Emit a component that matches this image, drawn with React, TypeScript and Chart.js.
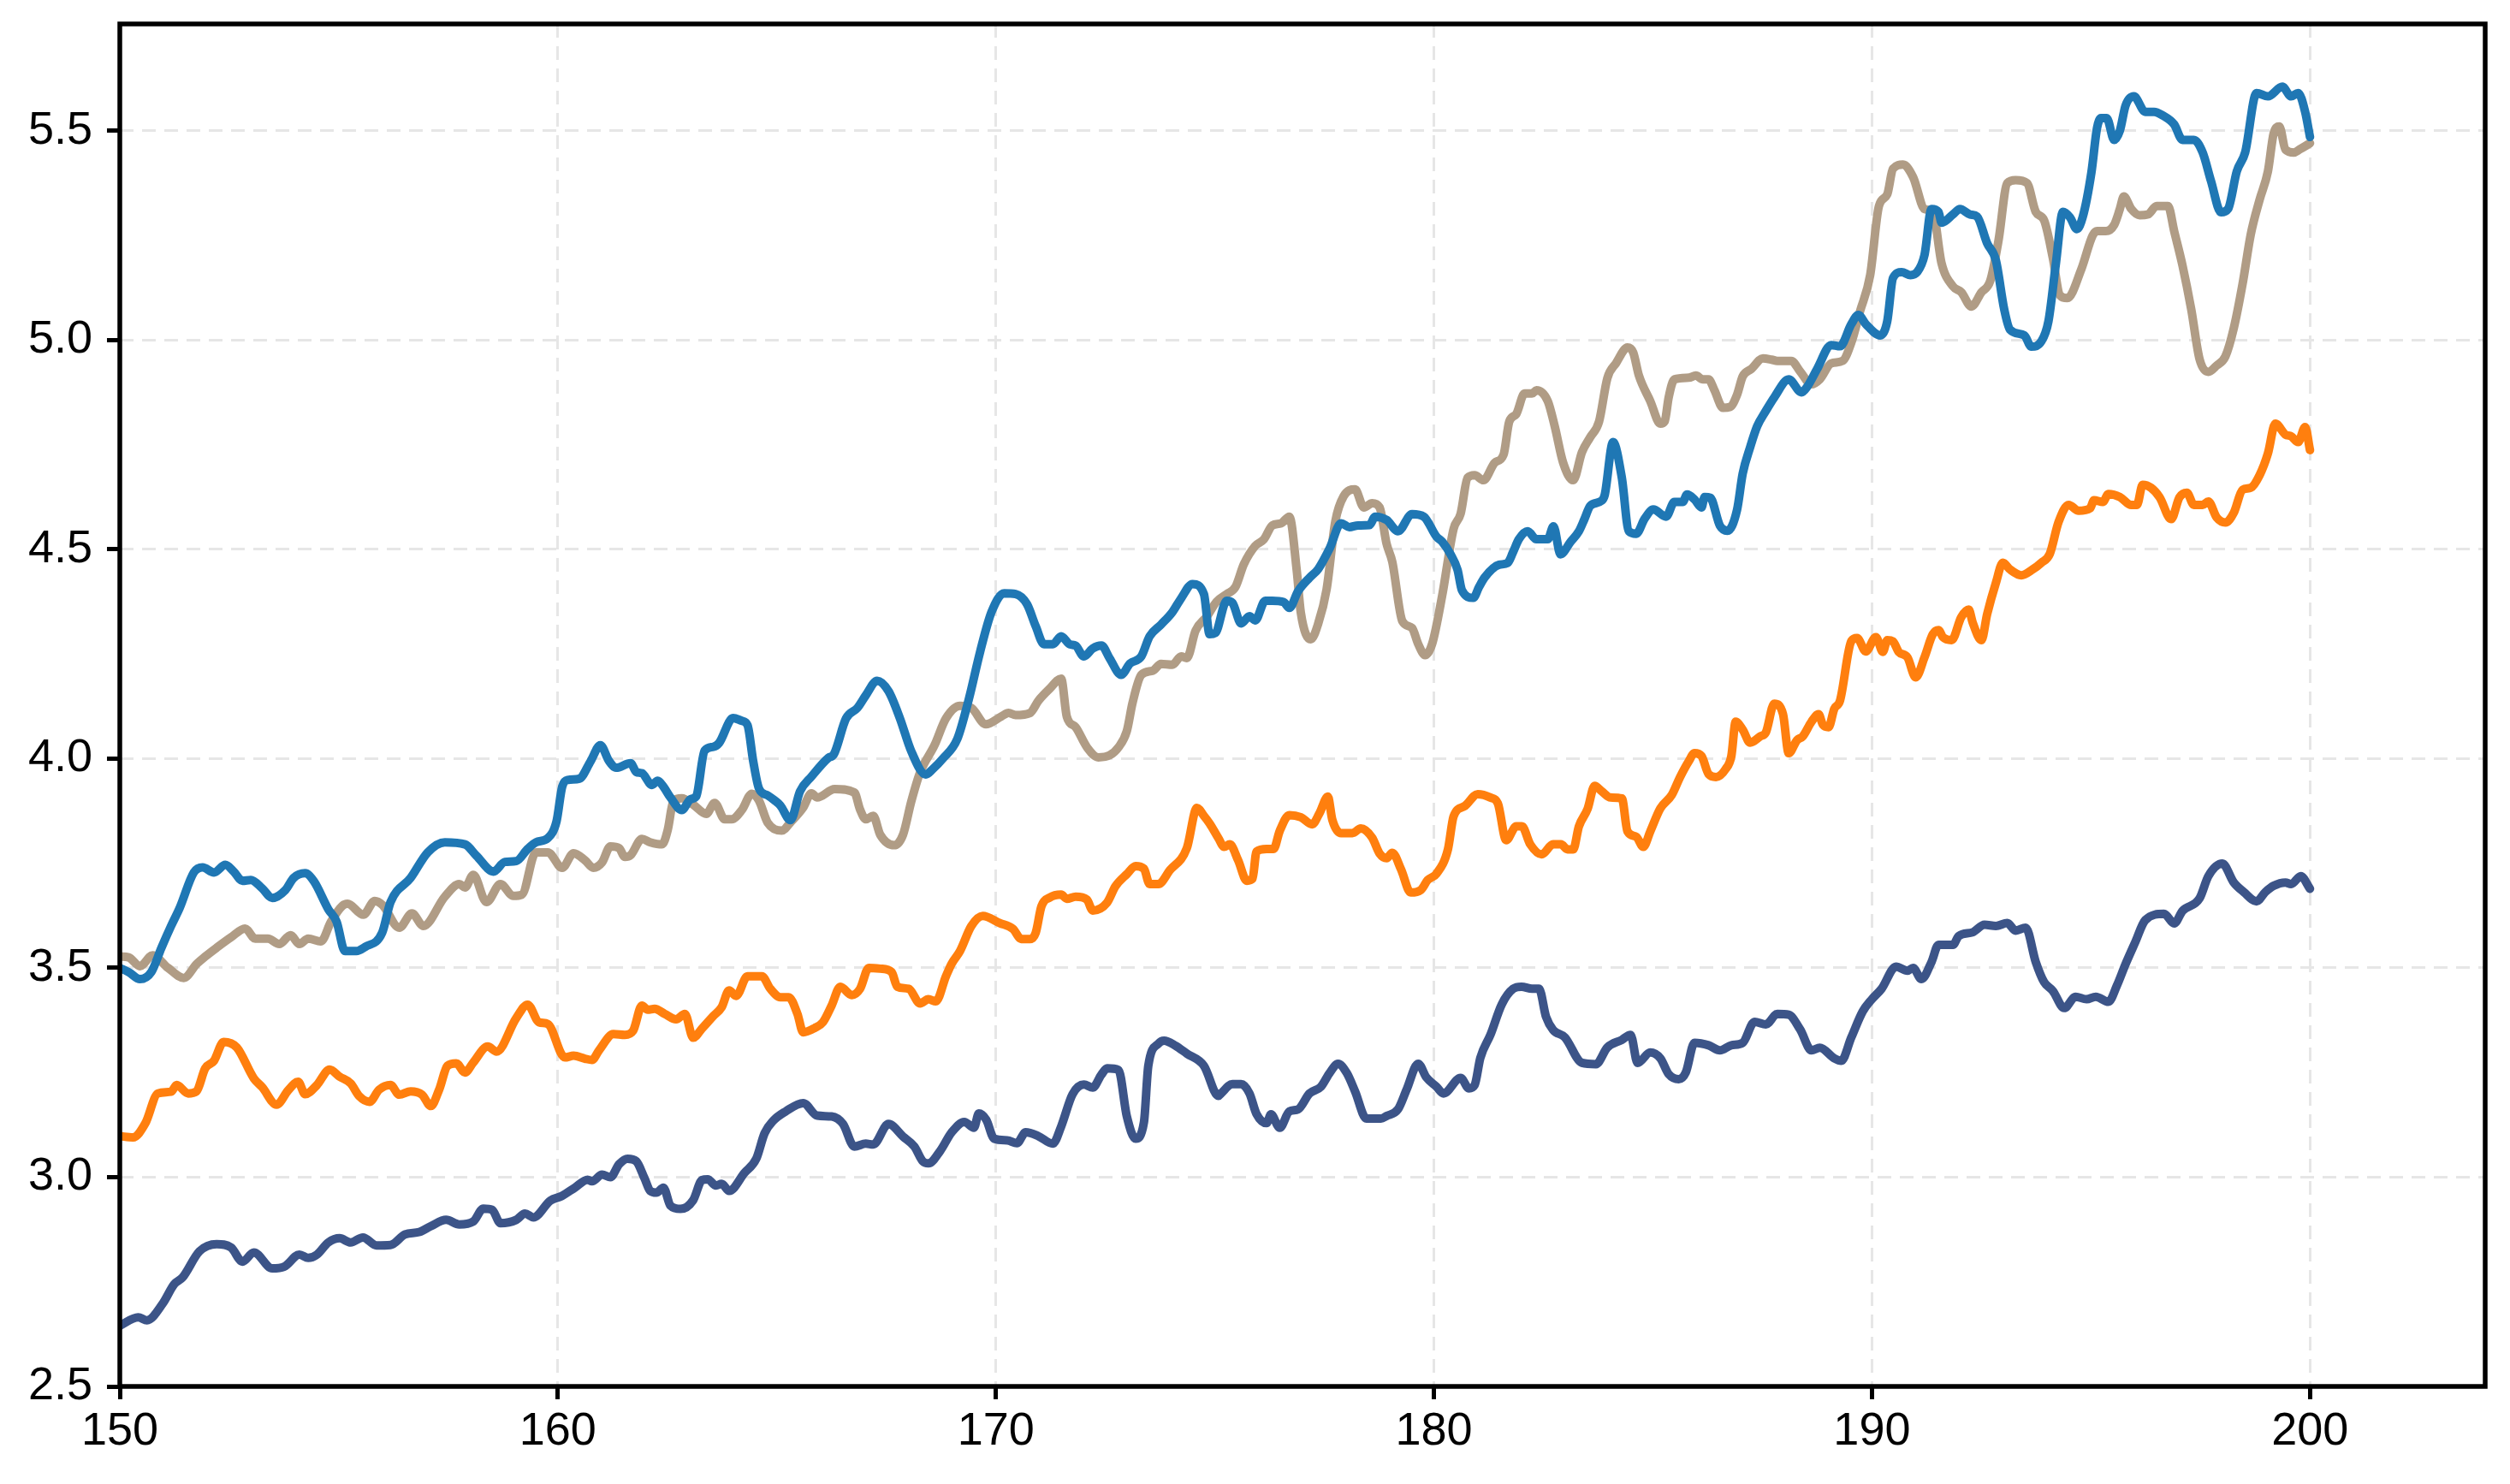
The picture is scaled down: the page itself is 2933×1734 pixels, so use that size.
import { useEffect, useRef } from 'react';
import { Chart, registerables, Plugin } from 'chart.js';

Chart.register(...registerables);

const xTicks = [150, 160, 170, 180, 190, 200];
const yTicks = [2.5, 3.0, 3.5, 4.0, 4.5, 5.0, 5.5];

// [x, y] pairs
const bluePoints: [number, number][] = [
  [150.0, 3.5], [150.2, 3.49], [150.46, 3.473], [150.72, 3.49], [150.95, 3.548], [151.17, 3.6], [151.37, 3.644],
  [151.69, 3.728], [151.89, 3.74], [152.15, 3.728], [152.41, 3.746], [152.6, 3.73], [152.8, 3.708], [152.99, 3.71],
  [153.25, 3.69], [153.48, 3.667], [153.78, 3.686], [153.97, 3.715], [154.23, 3.726], [154.43, 3.707], [154.76, 3.64],
  [154.95, 3.61], [155.14, 3.54], [155.4, 3.54], [155.6, 3.55], [155.99, 3.584], [156.18, 3.657], [156.64, 3.715],
  [157.03, 3.776], [157.42, 3.8], [157.88, 3.795], [158.14, 3.768], [158.53, 3.73], [158.79, 3.753], [159.05, 3.755],
  [159.31, 3.784], [159.5, 3.8], [159.77, 3.81], [159.97, 3.85], [160.1, 3.933], [160.23, 3.949], [160.49, 3.952],
  [160.75, 3.994], [160.97, 4.032], [161.17, 3.994], [161.33, 3.978], [161.66, 3.989], [161.79, 3.968], [161.92, 3.965],
  [162.15, 3.937], [162.28, 3.947], [162.41, 3.933], [162.57, 3.907], [162.83, 3.877], [163.03, 3.903], [163.16, 3.91],
  [163.35, 4.019], [163.55, 4.028], [163.68, 4.037], [164.0, 4.097], [164.2, 4.09], [164.33, 4.08], [164.46, 3.994],
  [164.59, 3.929], [164.79, 3.912], [164.95, 3.9], [165.08, 3.888], [165.31, 3.853], [165.53, 3.922], [165.79, 3.957],
  [166.18, 4.002], [166.3, 4.01], [166.58, 4.096], [166.84, 4.121], [167.03, 4.151], [167.29, 4.186], [167.55, 4.161],
  [167.81, 4.096], [168.07, 4.017], [168.4, 3.962], [168.56, 3.975], [168.79, 4.0], [169.12, 4.047], [169.38, 4.141],
  [169.64, 4.255], [169.9, 4.35], [170.19, 4.395], [170.45, 4.393], [170.71, 4.369], [170.91, 4.316], [171.1, 4.273],
  [171.3, 4.273], [171.49, 4.292], [171.69, 4.273], [171.82, 4.27], [172.01, 4.244], [172.21, 4.263], [172.41, 4.27],
  [172.6, 4.239], [172.86, 4.2], [173.06, 4.227], [173.32, 4.244], [173.51, 4.292], [173.77, 4.32], [174.03, 4.35],
  [174.23, 4.383], [174.49, 4.417], [174.75, 4.393], [174.88, 4.297], [175.01, 4.3], [175.27, 4.377], [175.4, 4.372],
  [175.6, 4.323], [175.79, 4.34], [175.92, 4.33], [176.15, 4.377], [176.31, 4.377], [176.57, 4.374], [176.7, 4.36],
  [176.9, 4.4], [177.16, 4.432], [177.36, 4.453], [177.62, 4.502], [177.88, 4.562], [178.07, 4.553], [178.27, 4.557],
  [178.53, 4.558], [178.66, 4.578], [178.92, 4.57], [179.18, 4.543], [179.5, 4.584], [179.77, 4.578], [180.06, 4.53],
  [180.19, 4.518], [180.38, 4.488], [180.54, 4.451], [180.64, 4.402], [180.9, 4.384], [181.03, 4.41], [181.16, 4.433],
  [181.49, 4.463], [181.68, 4.467], [181.81, 4.494], [181.94, 4.524], [182.14, 4.543], [182.34, 4.524], [182.6, 4.524],
  [182.73, 4.555], [182.89, 4.488], [183.12, 4.518], [183.31, 4.543], [183.44, 4.573], [183.57, 4.604], [183.83, 4.616],
  [183.9, 4.63], [184.09, 4.756], [184.29, 4.671], [184.45, 4.543], [184.62, 4.537], [184.81, 4.573], [185.01, 4.595],
  [185.3, 4.578], [185.49, 4.613], [185.68, 4.613], [185.78, 4.631], [185.95, 4.619], [186.11, 4.6], [186.18, 4.625],
  [186.31, 4.623], [186.53, 4.556], [186.7, 4.544], [186.92, 4.594], [187.05, 4.681], [187.22, 4.744], [187.38, 4.794],
  [187.58, 4.831], [187.77, 4.863], [188.1, 4.906], [188.39, 4.875], [188.52, 4.888], [188.75, 4.931], [189.07, 4.988],
  [189.27, 4.985], [189.53, 5.038], [189.69, 5.06], [189.86, 5.038], [190.19, 5.011], [190.35, 5.045], [190.48, 5.148],
  [190.68, 5.162], [190.88, 5.155], [191.03, 5.162], [191.2, 5.203], [191.36, 5.313], [191.52, 5.306], [191.59, 5.28],
  [191.85, 5.3], [192.01, 5.313], [192.24, 5.3], [192.4, 5.295], [192.63, 5.231], [192.83, 5.19], [193.02, 5.073],
  [193.15, 5.025], [193.48, 5.011], [193.64, 4.984], [193.87, 4.997], [194.03, 5.045], [194.2, 5.183], [194.36, 5.306],
  [194.52, 5.293], [194.68, 5.265], [194.81, 5.293], [195.01, 5.4], [195.14, 5.507], [195.23, 5.53], [195.36, 5.53],
  [195.53, 5.478], [195.66, 5.5], [195.79, 5.56], [195.98, 5.582], [196.24, 5.545], [196.44, 5.545], [196.63, 5.537],
  [196.9, 5.515], [197.09, 5.478], [197.35, 5.478], [197.55, 5.448], [197.74, 5.38], [197.97, 5.305], [198.13, 5.313],
  [198.33, 5.403], [198.52, 5.448], [198.78, 5.59], [199.04, 5.582], [199.37, 5.605], [199.57, 5.582], [199.73, 5.59],
  [199.89, 5.545], [200.0, 5.485],
];

const tanPoints: [number, number][] = [
  [150.0, 3.527], [150.2, 3.525], [150.46, 3.504], [150.75, 3.53], [151.1, 3.5], [151.46, 3.476], [151.76, 3.51],
  [151.95, 3.527], [152.21, 3.548], [152.54, 3.573], [152.86, 3.594], [153.09, 3.57], [153.38, 3.57], [153.64, 3.557],
  [153.9, 3.578], [154.1, 3.557], [154.3, 3.57], [154.59, 3.563], [154.82, 3.61], [155.08, 3.648], [155.2, 3.653],
  [155.56, 3.627], [155.82, 3.66], [156.0, 3.65], [156.38, 3.596], [156.67, 3.63], [156.93, 3.6], [157.42, 3.67],
  [157.75, 3.7], [157.88, 3.692], [158.07, 3.722], [158.37, 3.657], [158.69, 3.7], [158.98, 3.672], [159.18, 3.675],
  [159.5, 3.776], [159.77, 3.776], [160.1, 3.739], [160.36, 3.774], [160.62, 3.757], [160.81, 3.739], [161.01, 3.752],
  [161.2, 3.79], [161.4, 3.786], [161.53, 3.765], [161.66, 3.769], [161.92, 3.808], [162.11, 3.8], [162.38, 3.795],
  [162.51, 3.83], [162.64, 3.899], [162.83, 3.905], [163.09, 3.89], [163.39, 3.868], [163.58, 3.894], [163.81, 3.855],
  [163.97, 3.855], [164.2, 3.877], [164.43, 3.916], [164.59, 3.9], [164.79, 3.847], [165.11, 3.828], [165.33, 3.85],
  [165.6, 3.883], [165.79, 3.917], [165.92, 3.907], [166.32, 3.927], [166.77, 3.919], [166.9, 3.878], [167.03, 3.855],
  [167.2, 3.863], [167.36, 3.818], [167.68, 3.793], [167.88, 3.818], [168.07, 3.898], [168.27, 3.967], [168.6, 4.032],
  [168.86, 4.096], [169.18, 4.126], [169.44, 4.121], [169.77, 4.082], [170.13, 4.101], [170.29, 4.109], [170.45, 4.104],
  [170.78, 4.109], [170.97, 4.138], [171.23, 4.167], [171.49, 4.191], [171.62, 4.1], [171.82, 4.075], [172.08, 4.027],
  [172.34, 4.003], [172.6, 4.008], [172.8, 4.027], [172.99, 4.066], [173.12, 4.133], [173.32, 4.2], [173.58, 4.21],
  [173.77, 4.226], [174.03, 4.224], [174.23, 4.244], [174.36, 4.24], [174.56, 4.306], [174.82, 4.34], [175.04, 4.375],
  [175.27, 4.393], [175.47, 4.41], [175.66, 4.464], [175.92, 4.508], [176.12, 4.524], [176.31, 4.557], [176.51, 4.562],
  [176.7, 4.578], [176.87, 4.448], [176.96, 4.35], [177.19, 4.285], [177.36, 4.323], [177.55, 4.404], [177.75, 4.567],
  [177.94, 4.627], [178.2, 4.643], [178.4, 4.6], [178.59, 4.61], [178.76, 4.6], [178.92, 4.513], [179.05, 4.47],
  [179.28, 4.328], [179.5, 4.312], [179.64, 4.274], [179.8, 4.247], [179.96, 4.274], [180.19, 4.39], [180.45, 4.549],
  [180.61, 4.585], [180.77, 4.671], [180.93, 4.677], [181.13, 4.665], [181.39, 4.707], [181.59, 4.726], [181.72, 4.805],
  [181.88, 4.823], [182.07, 4.872], [182.24, 4.872], [182.34, 4.88], [182.6, 4.854], [182.76, 4.793], [182.95, 4.707],
  [183.18, 4.665], [183.38, 4.732], [183.57, 4.768], [183.77, 4.805], [183.96, 4.909], [184.16, 4.945], [184.42, 4.982],
  [184.55, 4.97], [184.68, 4.915], [184.94, 4.854], [185.17, 4.8], [185.27, 4.806], [185.36, 4.863], [185.49, 4.906],
  [185.82, 4.91], [185.98, 4.915], [186.14, 4.906], [186.27, 4.906], [186.4, 4.881], [186.6, 4.838], [186.76, 4.84],
  [186.92, 4.869], [187.05, 4.913], [187.25, 4.931], [187.51, 4.956], [187.71, 4.953], [187.84, 4.95], [188.16, 4.95],
  [188.36, 4.925], [188.62, 4.894], [188.81, 4.906], [189.07, 4.944], [189.33, 4.95], [189.53, 4.994], [189.73, 5.069],
  [189.96, 5.155], [190.16, 5.32], [190.35, 5.348], [190.48, 5.409], [190.71, 5.419], [190.94, 5.389], [191.2, 5.313],
  [191.39, 5.306], [191.59, 5.183], [191.85, 5.128], [192.04, 5.114], [192.27, 5.08], [192.5, 5.114], [192.7, 5.141],
  [192.89, 5.238], [193.09, 5.375], [193.28, 5.382], [193.54, 5.375], [193.74, 5.306], [193.93, 5.286], [194.13, 5.196],
  [194.29, 5.107], [194.46, 5.1], [194.78, 5.169], [195.04, 5.25], [195.14, 5.26], [195.34, 5.26], [195.53, 5.275],
  [195.66, 5.313], [195.75, 5.343], [195.92, 5.313], [196.11, 5.298], [196.3, 5.3], [196.5, 5.32], [196.76, 5.32],
  [196.9, 5.26], [197.09, 5.178], [197.29, 5.073], [197.48, 4.954], [197.68, 4.924], [197.87, 4.939], [198.07, 4.961],
  [198.26, 5.028], [198.46, 5.133], [198.65, 5.253], [198.85, 5.335], [199.04, 5.403], [199.17, 5.493], [199.3, 5.51],
  [199.44, 5.455], [199.63, 5.448], [199.76, 5.455], [200.0, 5.47],
];

const orangePoints: [number, number][] = [
  [150.0, 3.098], [150.3, 3.095], [150.58, 3.128], [150.87, 3.2], [151.17, 3.204], [151.3, 3.22], [151.56, 3.2],
  [151.75, 3.205], [151.95, 3.26], [152.15, 3.278], [152.37, 3.323], [152.67, 3.31], [153.06, 3.236], [153.25, 3.215],
  [153.58, 3.173], [153.84, 3.207], [154.07, 3.228], [154.23, 3.198], [154.5, 3.22], [154.79, 3.257], [155.02, 3.24],
  [155.27, 3.224], [155.47, 3.193], [155.7, 3.18], [155.92, 3.209], [156.18, 3.22], [156.38, 3.197], [156.64, 3.205],
  [156.9, 3.197], [157.1, 3.17], [157.29, 3.209], [157.48, 3.266], [157.68, 3.272], [157.88, 3.25], [158.07, 3.274],
  [158.4, 3.312], [158.6, 3.3], [159.05, 3.38], [159.31, 3.412], [159.57, 3.37], [159.77, 3.366], [160.16, 3.286],
  [160.36, 3.29], [160.62, 3.283], [160.78, 3.28], [160.94, 3.303], [161.27, 3.342], [161.53, 3.34], [161.72, 3.35],
  [161.92, 3.41], [162.05, 3.4], [162.21, 3.402], [162.44, 3.39], [162.7, 3.377], [162.9, 3.39], [163.09, 3.333],
  [163.29, 3.355], [163.55, 3.385], [163.74, 3.406], [163.91, 3.446], [164.07, 3.433], [164.33, 3.48], [164.66, 3.48],
  [164.85, 3.45], [165.08, 3.43], [165.27, 3.43], [165.47, 3.39], [165.6, 3.346], [165.86, 3.356], [166.05, 3.37],
  [166.25, 3.41], [166.45, 3.455], [166.71, 3.435], [166.9, 3.45], [167.1, 3.5], [167.36, 3.498], [167.62, 3.49],
  [167.75, 3.455], [168.01, 3.45], [168.27, 3.415], [168.46, 3.425], [168.63, 3.42], [168.86, 3.48], [168.99, 3.51],
  [169.18, 3.54], [169.44, 3.6], [169.7, 3.624], [170.09, 3.607], [170.39, 3.593], [170.58, 3.569], [170.78, 3.569],
  [170.91, 3.584], [171.04, 3.647], [171.23, 3.668], [171.49, 3.675], [171.62, 3.665], [171.82, 3.67], [172.08, 3.663],
  [172.21, 3.637], [172.54, 3.656], [172.73, 3.695], [172.99, 3.724], [173.19, 3.743], [173.38, 3.737], [173.51, 3.7],
  [173.71, 3.7], [173.97, 3.733], [174.36, 3.786], [174.59, 3.882], [174.75, 3.863], [174.88, 3.845], [175.08, 3.81],
  [175.21, 3.789], [175.34, 3.795], [175.53, 3.757], [175.73, 3.708], [175.86, 3.713], [175.95, 3.778], [176.18, 3.784],
  [176.34, 3.784], [176.48, 3.827], [176.7, 3.865], [176.96, 3.86], [177.22, 3.843], [177.39, 3.87], [177.58, 3.909],
  [177.68, 3.854], [177.88, 3.822], [178.14, 3.822], [178.33, 3.833], [178.59, 3.811], [178.76, 3.773], [178.92, 3.762],
  [179.05, 3.775], [179.25, 3.735], [179.47, 3.68], [179.7, 3.686], [179.86, 3.71], [180.06, 3.725], [180.32, 3.783],
  [180.45, 3.862], [180.71, 3.887], [181.0, 3.915], [181.29, 3.907], [181.46, 3.893], [181.65, 3.805], [181.88, 3.838],
  [182.01, 3.838], [182.2, 3.795], [182.46, 3.771], [182.72, 3.795], [182.9, 3.795], [183.05, 3.783], [183.18, 3.783],
  [183.31, 3.838], [183.51, 3.88], [183.67, 3.935], [183.83, 3.922], [184.03, 3.907], [184.29, 3.905], [184.42, 3.826],
  [184.62, 3.813], [184.78, 3.789], [184.94, 3.826], [185.17, 3.881], [185.43, 3.913], [185.62, 3.956], [185.82, 3.994],
  [185.95, 4.013], [186.11, 4.006], [186.27, 3.963], [186.44, 3.956], [186.66, 3.975], [186.79, 4.006], [186.89, 4.088],
  [187.05, 4.069], [187.22, 4.038], [187.45, 4.053], [187.58, 4.063], [187.77, 4.131], [187.97, 4.106], [188.1, 4.013],
  [188.29, 4.044], [188.42, 4.053], [188.62, 4.088], [188.78, 4.106], [188.88, 4.081], [189.01, 4.075], [189.14, 4.119],
  [189.27, 4.138], [189.53, 4.281], [189.66, 4.288], [189.86, 4.256], [190.09, 4.29], [190.25, 4.255], [190.35, 4.283],
  [190.48, 4.28], [190.61, 4.255], [190.81, 4.242], [191.0, 4.194], [191.2, 4.242], [191.39, 4.297], [191.52, 4.307],
  [191.62, 4.29], [191.82, 4.283], [192.04, 4.338], [192.21, 4.356], [192.3, 4.325], [192.5, 4.283], [192.63, 4.345],
  [192.83, 4.42], [192.99, 4.468], [193.15, 4.452], [193.41, 4.438], [193.67, 4.452], [193.87, 4.468], [194.06, 4.489],
  [194.26, 4.565], [194.49, 4.606], [194.72, 4.592], [194.98, 4.598], [195.07, 4.617], [195.27, 4.613], [195.4, 4.632],
  [195.66, 4.625], [195.92, 4.606], [196.05, 4.606], [196.18, 4.654], [196.37, 4.647], [196.57, 4.624], [196.83, 4.572],
  [197.02, 4.624], [197.19, 4.635], [197.35, 4.606], [197.55, 4.606], [197.68, 4.614], [197.87, 4.576], [198.07, 4.564],
  [198.26, 4.587], [198.46, 4.642], [198.65, 4.647], [198.85, 4.677], [199.04, 4.729], [199.21, 4.8], [199.44, 4.774],
  [199.57, 4.77], [199.73, 4.756], [199.89, 4.792], [200.0, 4.737],
];

const navyPoints: [number, number][] = [
  [150.0, 2.645], [150.42, 2.665], [150.62, 2.658], [150.98, 2.698], [151.24, 2.744], [151.43, 2.76], [151.82, 2.823],
  [152.21, 2.84], [152.54, 2.832], [152.8, 2.798], [153.06, 2.82], [153.48, 2.782], [153.75, 2.786], [154.1, 2.815],
  [154.3, 2.807], [154.5, 2.815], [154.76, 2.844], [155.02, 2.854], [155.27, 2.844], [155.55, 2.856], [155.86, 2.837],
  [156.18, 2.838], [156.51, 2.863], [156.84, 2.869], [157.1, 2.883], [157.45, 2.898], [157.75, 2.887], [158.07, 2.894],
  [158.3, 2.925], [158.5, 2.922], [158.69, 2.89], [159.05, 2.898], [159.25, 2.913], [159.44, 2.904], [159.83, 2.944],
  [160.09, 2.955], [160.39, 2.975], [160.68, 2.994], [160.78, 2.99], [161.01, 3.006], [161.2, 3.0], [161.4, 3.031],
  [161.59, 3.044], [161.79, 3.038], [161.98, 2.997], [162.11, 2.967], [162.25, 2.963], [162.41, 2.975], [162.57, 2.932],
  [162.8, 2.924], [163.09, 2.945], [163.29, 2.993], [163.42, 2.995], [163.61, 2.98], [163.74, 2.984], [163.91, 2.967],
  [164.26, 3.01], [164.53, 3.044], [164.72, 3.105], [164.92, 3.135], [165.2, 3.157], [165.6, 3.177], [165.92, 3.147],
  [166.25, 3.145], [166.51, 3.127], [166.77, 3.073], [167.03, 3.08], [167.2, 3.078], [167.55, 3.127], [167.88, 3.097],
  [168.14, 3.073], [168.33, 3.038], [168.46, 3.033], [168.73, 3.063], [168.99, 3.107], [169.28, 3.132], [169.5, 3.118],
  [169.61, 3.152], [169.78, 3.137], [169.96, 3.092], [170.26, 3.088], [170.48, 3.081], [170.68, 3.107], [170.97, 3.098],
  [171.3, 3.08], [171.49, 3.121], [171.75, 3.198], [172.01, 3.221], [172.21, 3.214], [172.41, 3.245], [172.54, 3.26],
  [172.8, 3.256], [172.99, 3.145], [173.19, 3.092], [173.38, 3.131], [173.48, 3.266], [173.71, 3.319], [173.84, 3.326],
  [174.1, 3.314], [174.36, 3.295], [174.75, 3.266], [175.08, 3.194], [175.14, 3.2], [175.4, 3.222], [175.6, 3.222],
  [175.79, 3.2], [175.95, 3.151], [176.18, 3.129], [176.28, 3.15], [176.48, 3.118], [176.7, 3.157], [176.9, 3.162],
  [177.16, 3.2], [177.42, 3.216], [177.62, 3.249], [177.81, 3.271], [178.01, 3.249], [178.2, 3.205], [178.46, 3.14],
  [178.79, 3.14], [178.92, 3.146], [179.18, 3.162], [179.38, 3.21], [179.64, 3.271], [179.83, 3.238], [180.06, 3.216],
  [180.22, 3.2], [180.61, 3.237], [180.8, 3.212], [180.93, 3.22], [181.06, 3.285], [181.29, 3.34], [181.55, 3.413],
  [181.81, 3.45], [182.0, 3.455], [182.24, 3.45], [182.4, 3.45], [182.56, 3.383], [182.72, 3.352], [182.99, 3.334],
  [183.38, 3.273], [183.7, 3.27], [183.96, 3.31], [184.29, 3.328], [184.49, 3.34], [184.65, 3.273], [184.94, 3.298],
  [185.17, 3.284], [185.36, 3.246], [185.59, 3.234], [185.75, 3.25], [185.95, 3.321], [186.27, 3.315], [186.53, 3.303],
  [186.79, 3.315], [187.05, 3.321], [187.32, 3.371], [187.58, 3.365], [187.84, 3.39], [188.1, 3.388], [188.36, 3.353],
  [188.62, 3.303], [188.81, 3.309], [189.14, 3.284], [189.3, 3.278], [189.53, 3.334], [189.79, 3.396], [189.99, 3.424],
  [190.22, 3.45], [190.55, 3.503], [190.81, 3.493], [190.94, 3.5], [191.13, 3.473], [191.36, 3.514], [191.52, 3.555],
  [191.85, 3.555], [191.98, 3.576], [192.3, 3.585], [192.57, 3.603], [192.83, 3.6], [193.09, 3.607], [193.28, 3.589],
  [193.51, 3.596], [193.74, 3.514], [193.93, 3.466], [194.13, 3.445], [194.39, 3.404], [194.65, 3.431], [194.9, 3.425],
  [195.11, 3.431], [195.4, 3.419], [195.59, 3.457], [195.79, 3.509], [196.01, 3.561], [196.24, 3.614], [196.67, 3.629],
  [196.9, 3.606], [197.09, 3.636], [197.48, 3.666], [197.68, 3.719], [198.0, 3.749], [198.26, 3.704], [198.49, 3.681],
  [198.78, 3.659], [198.98, 3.681], [199.17, 3.696], [199.44, 3.704], [199.57, 3.7], [199.79, 3.719], [200.0, 3.689],
];

const tickFont = { family: "'Liberation Sans', Arial, Helvetica, sans-serif", size: 54 };

// black box round the plot area
const frame: Plugin<'line'> = {
  id: 'frame',
  afterDatasetsDraw(chart) {
    const { ctx, chartArea } = chart;
    ctx.save();
    ctx.strokeStyle = '#000';
    ctx.lineWidth = 5.5;
    ctx.strokeRect(chartArea.left, chartArea.top, chartArea.right - chartArea.left, chartArea.bottom - chartArea.top);
    ctx.restore();
  },
};

const toXY = (pts: [number, number][]) => pts.map(([x, y]) => ({ x, y }));

function line(label: string, pts: [number, number][], color: string) {
  return {
    label,
    data: toXY(pts),
    borderColor: color,
    backgroundColor: color,
    borderWidth: 10,
    pointRadius: 0,
    cubicInterpolationMode: 'monotone' as const,
    borderJoinStyle: 'round' as const,
    borderCapStyle: 'round' as const,
  };
}

export default function App() {
  const chartRef = useRef<HTMLCanvasElement>(null);
  const chartInstance = useRef<Chart | null>(null);

  useEffect(() => {
    document.body.style.margin = '0';
    document.body.style.overflow = 'hidden';
    if (!chartRef.current) return;

    if (chartInstance.current) {
      chartInstance.current.destroy();
    }

    chartInstance.current = new Chart(chartRef.current, {
      type: 'line',
      data: {
        datasets: [
          line('blue', bluePoints, '#1f77b4'),
          line('tan', tanPoints, '#b09c85'),
          line('orange', orangePoints, '#ff7f0e'),
          line('navy', navyPoints, '#3c5488'),
        ],
      },
      options: {
        animation: false,
        responsive: true,
        maintainAspectRatio: false,
        layout: { padding: { top: 28, right: 29, left: 0, bottom: 0 } },
        plugins: {
          legend: { display: false },
          tooltip: { enabled: false },
        },
        scales: {
          x: {
            type: 'linear',
            min: 150,
            max: 204,
            afterBuildTicks: (axis) => {
              axis.ticks = xTicks.map((value) => ({ value }));
            },
            afterFit: (axis) => {
              axis.height = 114;
              axis.paddingLeft = 0;
              axis.paddingRight = 0;
            },
            grid: { color: '#e6e6e6', lineWidth: 3, tickLength: 15, tickColor: '#000', tickWidth: 5 },
            border: { display: false, dash: [16, 10] },
            ticks: {
              color: '#000',
              font: tickFont,
              padding: 6,
              autoSkip: false,
              maxRotation: 0,
              callback: (v) => String(v),
            },
          },
          y: {
            type: 'linear',
            min: 2.5,
            max: 5.755,
            afterBuildTicks: (axis) => {
              axis.ticks = yTicks.map((value) => ({ value }));
            },
            afterFit: (axis) => {
              axis.width = 140;
              axis.paddingTop = 0;
              axis.paddingBottom = 0;
            },
            grid: { color: '#e6e6e6', lineWidth: 3, tickLength: 15, tickColor: '#000', tickWidth: 5 },
            border: { display: false, dash: [16, 10] },
            ticks: {
              color: '#000',
              font: tickFont,
              padding: 17,
              autoSkip: false,
              callback: (v) => Number(v).toFixed(1),
            },
          },
        },
      },
      plugins: [frame],
    });

    return () => {
      if (chartInstance.current) {
        chartInstance.current.destroy();
        chartInstance.current = null;
      }
    };
  }, []);

  return (
    <div style={{ position: 'relative', width: 2933, height: 1734 }}>
      <canvas ref={chartRef}></canvas>
    </div>
  );
}
